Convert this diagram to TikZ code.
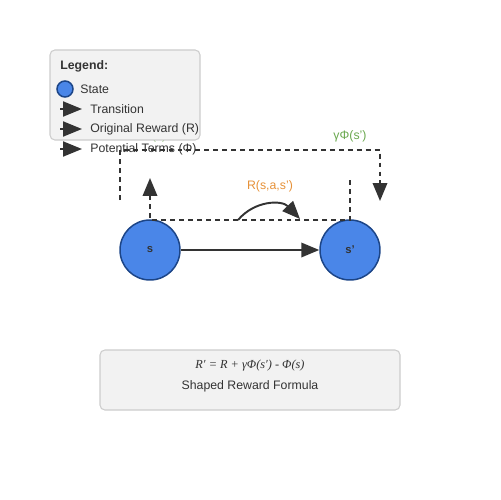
\documentclass[tikz,border=0pt]{standalone}
\usepackage{fontspec}
\setmainfont{Liberation Serif}
\setsansfont{Liberation Sans}
\usetikzlibrary{arrows.meta}
\definecolor{stateblue}{HTML}{4A86E8}
\definecolor{stateedge}{HTML}{1C4587}
\definecolor{ink}{HTML}{333333}
\definecolor{boxfill}{HTML}{F2F2F2}
\definecolor{boxedge}{HTML}{CCCCCC}
\definecolor{rewardorange}{HTML}{E69138}
\definecolor{potgreen}{HTML}{6AA84F}
\def\smalltext{\sffamily\fontsize{7}{8.4}\selectfont}
\tikzset{
	state/.style={circle,draw=stateedge,line width=0.85pt,fill=stateblue,
	minimum size=1.2cm,inner sep=0pt,text=ink,font=\sffamily\bfseries\fontsize{6.4}{7}\selectfont},
	bigtip/.style={-{Triangle[length=0.36cm,width=0.29cm]}},
	legtip/.style={-{Triangle[length=0.38cm,width=0.3cm]},draw=ink,line width=1.1pt},
	trans/.style={bigtip,draw=ink,line width=1.1pt},
	potline/.style={draw=ink,line width=1.1pt,dash pattern=on 2.8pt off 2.3pt},
	infobox/.style={draw=boxedge,fill=boxfill,line width=0.6pt,rounded corners=2.8pt},
	lbl/.style={font=\smalltext,text=ink,anchor=west,inner sep=0pt}
}
\begin{document}
\begin{tikzpicture}[x=0.02cm,y=-0.02cm]
	\useasboundingbox (0,0) rectangle (500,500);
	\node[font=\smalltext,text=potgreen] (phis) at (152,136) {-Φ(s)};
	\draw[infobox] (50,50) rectangle (200,140);
	\node[lbl,font=\sffamily\bfseries\fontsize{7}{8.4}\selectfont] (legtitle) at (60,66) {Legend:};
	\node[circle,draw=stateedge,line width=0.85pt,fill=stateblue,minimum size=0.32cm,inner sep=0pt] (legstate) at (65,89) {};
	\node[lbl] (lstate) at (80,89) {State};
	\coordinate (t1a) at (60,109); \coordinate (t1b) at (82,109);
	\coordinate (t2a) at (60,129); \coordinate (t2b) at (82,129);
	\coordinate (t3a) at (60,149); \coordinate (t3b) at (82,149);
	\draw[legtip] (t1a) -- (t1b);
	\draw[legtip] (t2a) -- (t2b);
	\draw[legtip] (t3a) -- (t3b);
	\node[lbl] (ltrans) at (90,109) {Transition};
	\node[lbl] (lorig) at (90,129) {Original Reward (R)};
	\node[lbl] (lpot) at (90,149) {Potential Terms (Φ)};
	\node[state] (s) at (150,250) {s};
	\node[state] (s') at (350,250) {s'};
	\draw[trans] (s) -- (s');
	\coordinate (gl) at (120,200); \coordinate (gl') at (120,150);
	\coordinate (gr') at (380,150); \coordinate (gr) at (380,201);
	\draw[potline,bigtip] (gl) -- (gl') -- (gr') -- (gr);
	\coordinate (ml) at (150,178); \coordinate (mr) at (350,180);
	\coordinate (ml') at (150,220); \coordinate (mr') at (350,220);
	\draw[potline,bigtip] (mr) -- (mr') -- (ml') -- (ml);
	\node[font=\smalltext,text=potgreen] (gphi) at (350,136) {γΦ(s')};
	\coordinate (ra) at (238,220); \coordinate (rb) at (300,219);
	\draw[trans] (ra) .. controls (255,200) and (282,200) .. (rb);
	\node[font=\smalltext,text=rewardorange] (rlabel) at (270,186) {R(s,a,s')};
	\draw[infobox] (100,350) rectangle (400,410);
	\node[font=\rmfamily\itshape\fontsize{7}{8.4}\selectfont,text=ink] (formula) at (250,366) {R′ = R + γΦ(s′) - Φ(s)};
	\node[font=\smalltext,text=ink] (fcaption) at (250,386) {Shaped Reward Formula};
\end{tikzpicture}
\end{document}
